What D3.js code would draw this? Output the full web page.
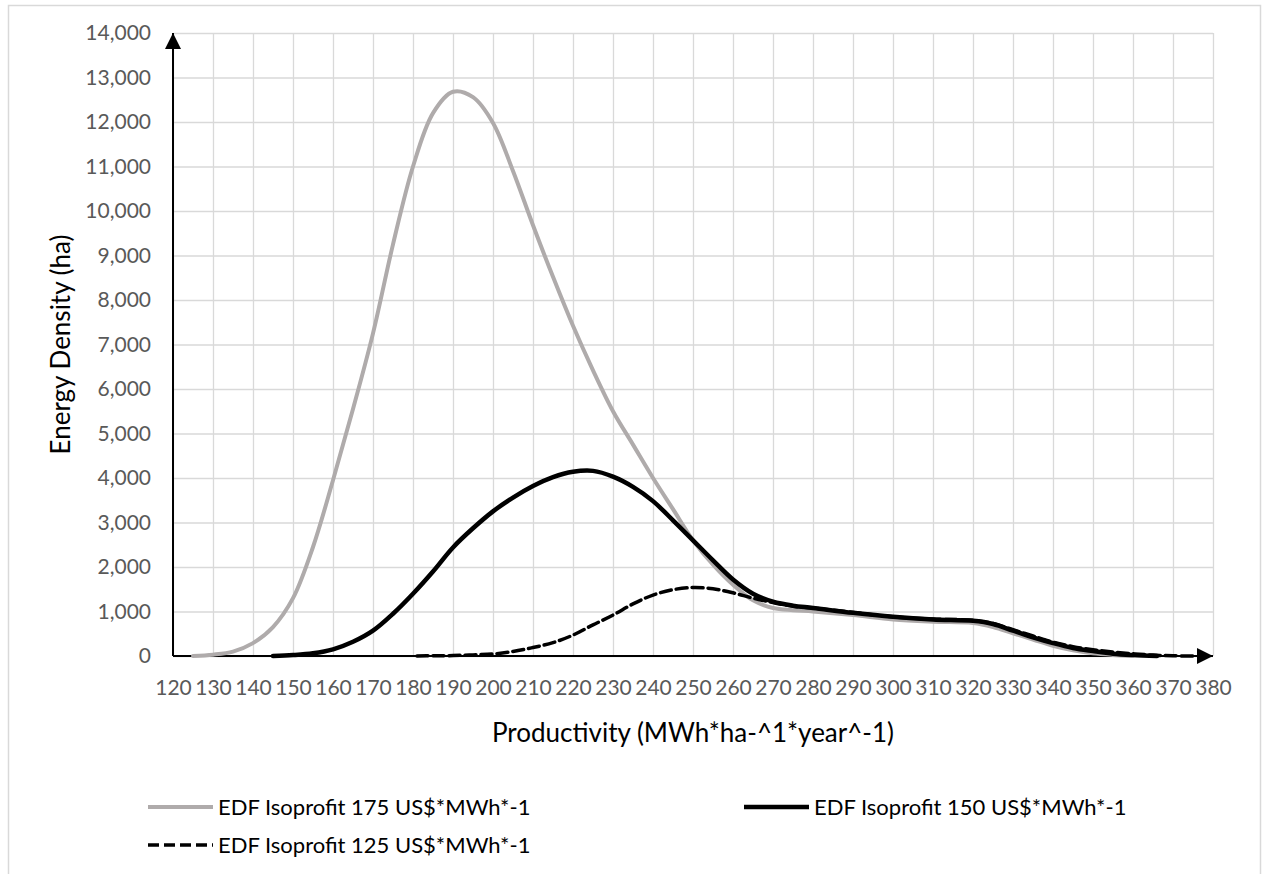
<!DOCTYPE html>
<html>
<head>
<meta charset="utf-8">
<script src="https://cdn.jsdelivr.net/npm/d3@7"></script>
<style>
  body { margin: 0; background: #fff; }
  svg text { font-family: Lato, "Open Sans", sans-serif; }
</style>
</head>
<body>
<div id="chart"></div>
<script>
var width = 1262;
var height = 874;
var margin = {left: 173, right: 49, top: 33, bottom: 218};

// x values (MWh*ha^-1*year^-1) and density values
var iso175X = [125,130,135,140,145,150,155,160,165,170,175,180,185,190,195,200,205,210,215,220,225,230,235,240,245,250,255,260,265,270,275,280,290,300,310,320,325,330,335,340,345,350,355,360];
var iso175Y = [0,30,100,290,650,1300,2450,3950,5550,7250,9250,11000,12200,12680,12560,11980,10900,9680,8520,7420,6420,5500,4750,4000,3300,2600,2050,1600,1250,1080,1030,1000,920,820,770,740,650,510,370,230,130,60,25,5];

var iso150X = [145,150,155,160,165,170,175,180,185,190,195,200,205,210,215,220,225,230,235,240,245,250,255,260,265,270,275,280,290,300,310,320,325,330,335,340,345,350,355,360,366];
var iso150Y = [0,20,60,150,320,570,950,1400,1900,2440,2870,3250,3560,3820,4020,4140,4160,4030,3800,3480,3050,2600,2150,1720,1400,1220,1130,1080,970,880,820,790,720,570,420,290,180,110,50,20,0];

var iso125X = [181,185,190,195,200,205,210,215,220,225,230,235,240,245,250,255,260,265,270,275,280,290,300,310,320,325,330,335,340,345,350,355,360,365,370,376];
var iso125Y = [0,5,10,25,45,100,190,300,470,700,920,1170,1370,1490,1540,1510,1420,1300,1200,1120,1080,980,880,830,800,730,590,450,310,210,140,90,50,20,5,0];

var seriesNames = ["EDF Isoprofit 175 US$*MWh*-1", "EDF Isoprofit 150 US$*MWh*-1", "EDF Isoprofit 125 US$*MWh*-1"];
var xTicks = d3.range(120, 381, 10);
var yTicks = d3.range(0, 14001, 1000);

var gridColor = '#d9d9d9';
var grayLine = '#afabab';

var svg = d3.select('#chart').append('svg')
      .attr('width', width)
      .attr('height', height);

// outer chart border
svg.append('rect')
      .attr('x', 8.5)
      .attr('y', 5.5)
      .attr('width', 1252)
      .attr('height', 900)
      .style('fill', 'none')
      .style('stroke', gridColor)
      .style('stroke-width', 1.5);

var xScale = d3.scaleLinear()
      .domain([120, 380])
      .range([margin.left, width - margin.right]);

var yScale = d3.scaleLinear()
      .domain([0, 14000])
      .range([height - margin.bottom, margin.top]);

// gridlines
var xGrid = svg.append('g')
      .attr('transform', 'translate(0,' + yScale(0) + ')')
      .call(d3.axisBottom(xScale).tickValues(xTicks).tickSize(-(yScale(0) - yScale(14000))).tickFormat(''));
var yGrid = svg.append('g')
      .attr('transform', 'translate(' + xScale(120) + ',0)')
      .call(d3.axisLeft(yScale).tickValues(yTicks).tickSize(-(xScale(380) - xScale(120))).tickFormat(''));
[xGrid, yGrid].forEach(function(g) {
      g.select('.domain').remove();
      g.selectAll('line').style('stroke', gridColor).style('stroke-width', 1.3);
});

// tick labels
var xAxis = svg.append('g')
      .attr('transform', 'translate(0,' + yScale(0) + ')')
      .call(d3.axisBottom(xScale).tickValues(xTicks).tickSize(0).tickPadding(24).tickFormat(d3.format('d')));
var yAxis = svg.append('g')
      .attr('transform', 'translate(' + (xScale(120) - 22) + ',0)')
      .call(d3.axisLeft(yScale).tickValues(yTicks).tickSize(0).tickPadding(0).tickFormat(d3.format(',')));
[xAxis, yAxis].forEach(function(g) {
      g.select('.domain').remove();
      g.selectAll('text')
            .style('font-family', 'Lato, sans-serif')
            .style('font-size', '21px')
            .style('fill', '#595959');
});

// axis arrows
var defs = svg.append('defs');
defs.append('marker')
      .attr('id', 'arrow')
      .attr('markerUnits', 'userSpaceOnUse')
      .attr('viewBox', '0 0 16 16')
      .attr('refX', 16)
      .attr('refY', 8)
      .attr('markerWidth', 16)
      .attr('markerHeight', 16)
      .attr('orient', 'auto')
      .append('path')
      .attr('d', 'M0,0 L16,8 L0,16 Z')
      .style('fill', '#000');

svg.append('line')
      .attr('x1', xScale(120)).attr('y1', yScale(0))
      .attr('x2', xScale(120)).attr('y2', yScale(14000))
      .style('stroke', '#000').style('stroke-width', 2)
      .attr('marker-end', 'url(#arrow)');
svg.append('line')
      .attr('x1', xScale(120)).attr('y1', yScale(0))
      .attr('x2', xScale(380)).attr('y2', yScale(0))
      .style('stroke', '#000').style('stroke-width', 2)
      .attr('marker-end', 'url(#arrow)');

// curves
var line = d3.line()
      .x(d => xScale(d[0]))
      .y(d => yScale(d[1]))
      .curve(d3.curveCatmullRom.alpha(0.5));

var series = [
      {x: iso175X, y: iso175Y, color: grayLine, w: 4, dash: null},
      {x: iso150X, y: iso150Y, color: '#000', w: 4.5, dash: null},
      {x: iso125X, y: iso125Y, color: '#000', w: 3.5, dash: '11,5'}
];

series.forEach(function(s) {
      svg.append('path')
            .datum(d3.zip(s.x, s.y))
            .attr('d', line)
            .style('fill', 'none')
            .style('stroke', s.color)
            .style('stroke-width', s.w)
            .style('stroke-dasharray', s.dash)
            .style('stroke-linecap', 'round');
});

// axis titles
svg.append('text')
      .attr('x', (xScale(120) + xScale(380)) / 2)
      .attr('y', 742)
      .style('text-anchor', 'middle')
      .style('font-size', '26px')
      .style('fill', '#000')
      .text('Productivity (MWh*ha-^1*year^-1)');

svg.append('text')
      .attr('transform', 'rotate(-90)')
      .attr('x', -(yScale(0) + yScale(14000)) / 2)
      .attr('y', 70)
      .style('text-anchor', 'middle')
      .style('font-size', '26px')
      .style('fill', '#000')
      .text('Energy Density (ha)');

// legend
var legendPos = [[148, 807], [744, 807], [148, 845]];
series.forEach(function(s, i) {
      var lg = svg.append('g')
            .attr('transform', 'translate(' + legendPos[i][0] + ',' + legendPos[i][1] + ')');
      lg.append('line')
            .attr('x1', 0).attr('x2', 65)
            .attr('y1', 0).attr('y2', 0)
            .style('stroke', s.color)
            .style('stroke-width', s.w)
            .style('stroke-dasharray', s.dash);
      lg.append('text')
            .attr('x', 70)
            .attr('y', 8)
            .style('font-size', '22px')
            .style('fill', '#000')
            .text(seriesNames[i]);
});
</script>
</body>
</html>
